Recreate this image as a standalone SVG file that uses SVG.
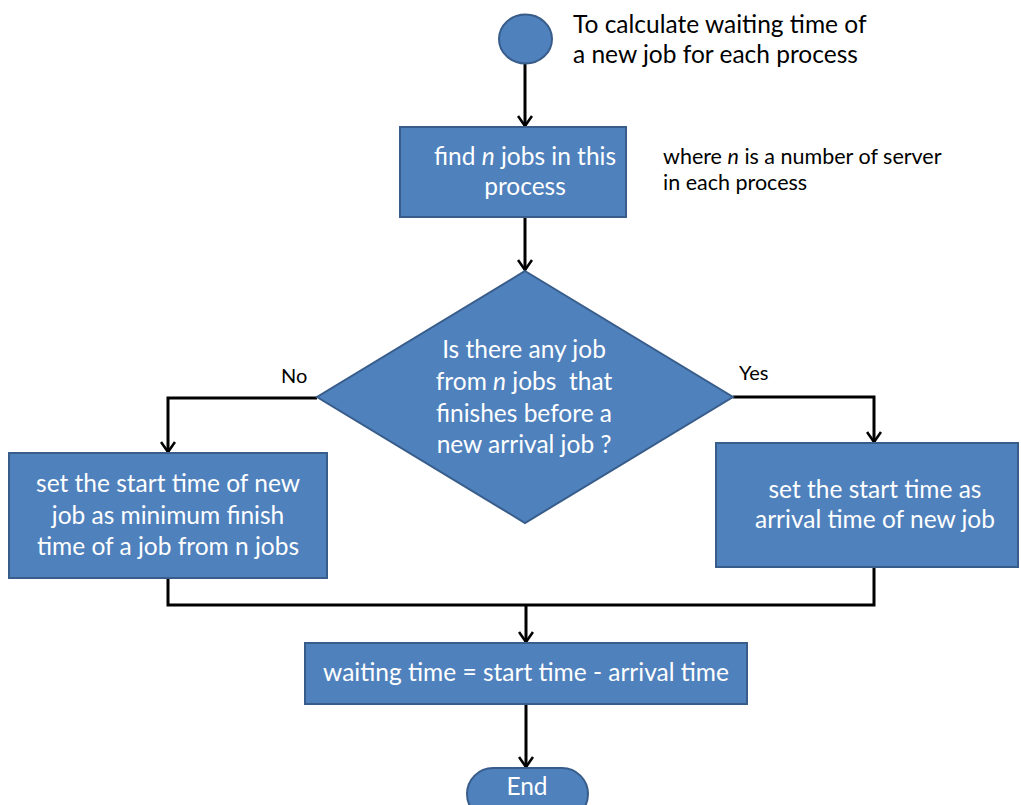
<svg xmlns="http://www.w3.org/2000/svg" width="1021" height="805" viewBox="0 0 1021 805">
  <defs>
    <marker id="arrow" viewBox="0 0 12 16" refX="11" refY="8" markerWidth="12" markerHeight="16" markerUnits="userSpaceOnUse" orient="auto">
      <path d="M1,1 L11,8 L1,15" fill="none" stroke="#000" stroke-width="2.6" stroke-linejoin="miter"/>
    </marker>
  </defs>
  <style>
    .shape { fill: #4F81BD; stroke: #385D8A; stroke-width: 2; }
    .label { font-family: Lato, "Liberation Sans", sans-serif; font-size: 24.5px; fill: #FFFFFF; text-anchor: middle; }
    .note { font-family: Lato, "Liberation Sans", sans-serif; fill: #000000; }
    .edge { fill: none; stroke: #000000; stroke-width: 3; }
    .arrowed { marker-end: url(#arrow); }
    .it { font-style: italic; }
  </style>
  <rect width="1021" height="805" fill="#FFFFFF"/>

  <!-- connectors -->
  <g id="connectors">
    <path class="edge arrowed" d="M525,62 L525,126"/>
    <path class="edge arrowed" d="M525,217 L525,270"/>
    <path class="edge arrowed" d="M317,398 L168,398 L168,452"/>
    <path class="edge arrowed" d="M733,397 L874,397 L874,442"/>
    <path class="edge" d="M168,578 L168,605 L874,605 L874,567"/>
    <path class="edge arrowed" d="M526,605 L526,642"/>
    <path class="edge arrowed" d="M526,704 L526,767"/>
  </g>

  <!-- start -->
  <g id="start">
    <ellipse class="shape" cx="525.5" cy="39" rx="26.5" ry="24.5"/>
  </g>

  <g id="start-note">
    <text class="note" font-size="24.5" x="573" y="33">To calculate waiting time of</text>
    <text class="note" font-size="24.5" x="573" y="63">a new job for each process</text>
  </g>

  <!-- find n jobs -->
  <g id="find-jobs">
    <rect class="shape" x="400" y="127" width="226" height="90"/>
    <text class="label" x="525" y="165">find <tspan class="it">n</tspan> jobs in this</text>
    <text class="label" x="525" y="195">process</text>
  </g>

  <g id="find-note">
    <text class="note" font-size="21.5" x="663" y="164">where <tspan class="it">n</tspan> is a number of server</text>
    <text class="note" font-size="21.5" x="663" y="190">in each process</text>
  </g>

  <!-- decision -->
  <g id="decision">
    <polygon class="shape" points="525,271 733,397 525,523 317,397"/>
    <text class="label" x="524" y="358">Is there any job</text>
    <text class="label" x="524" y="390" xml:space="preserve">from <tspan class="it">n</tspan> jobs  that</text>
    <text class="label" x="524" y="422">finishes before a</text>
    <text class="label" x="524" y="453">new arrival job ?</text>
  </g>

  <g id="branch-labels">
    <text class="note" font-size="20" x="281" y="383">No</text>
    <text class="note" font-size="20" x="739" y="380">Yes</text>
  </g>

  <!-- no branch -->
  <g id="min-finish">
    <rect class="shape" x="9" y="453" width="318" height="125"/>
    <text class="label" x="168" y="492">set the start time of new</text>
    <text class="label" x="168" y="524">job as minimum finish</text>
    <text class="label" x="168" y="555">time of a job from n jobs</text>
  </g>

  <!-- yes branch -->
  <g id="arrival-start">
    <rect class="shape" x="716" y="443" width="302" height="124"/>
    <text class="label" x="875" y="498">set the start time as</text>
    <text class="label" x="875" y="528">arrival time of new job</text>
  </g>

  <!-- waiting time -->
  <g id="waiting-time">
    <rect class="shape" x="305" y="643" width="442" height="61"/>
    <text class="label" x="526" y="681">waiting time = start time - arrival time</text>
  </g>

  <!-- end -->
  <g id="end">
    <rect class="shape" x="467" y="768" width="121" height="52" rx="26" ry="26"/>
    <text class="label" x="527" y="795">End</text>
  </g>
</svg>
